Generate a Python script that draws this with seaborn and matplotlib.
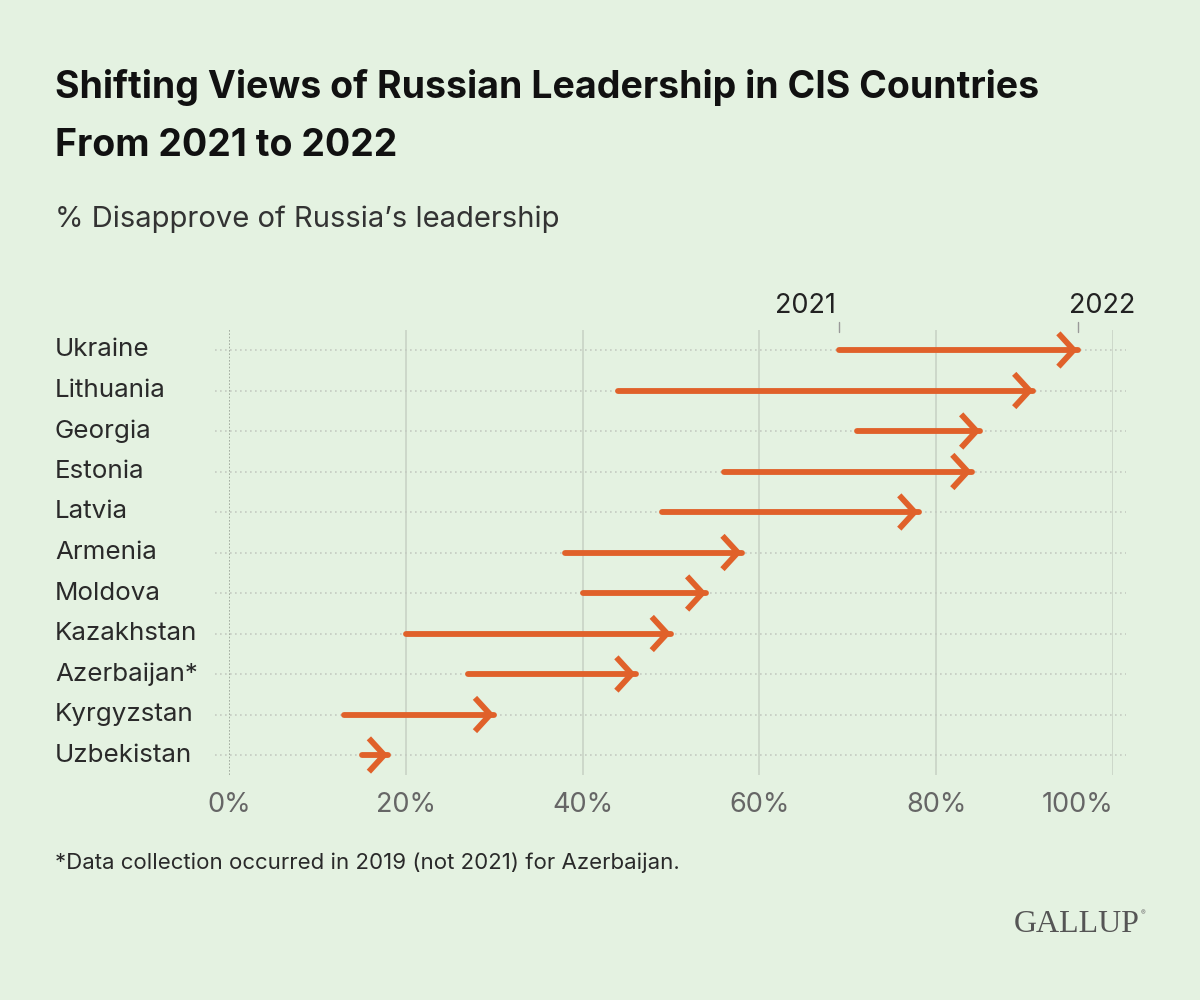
import numpy as np
import pandas as pd
import matplotlib.pyplot as plt
import seaborn as sns

# data (% disapprove of Russia's leadership)
countries = ['Ukraine', 'Lithuania', 'Georgia', 'Estonia', 'Latvia', 'Armenia',
             'Moldova', 'Kazakhstan', 'Azerbaijan*', 'Kyrgyzstan', 'Uzbekistan']
val_2021 = [69, 44, 71, 56, 49, 38, 40, 20, 27, 13, 15]
val_2022 = [96, 91, 85, 84, 78, 58, 54, 50, 46, 30, 18]
x_ticks = [0, 20, 40, 60, 80, 100]
x_tick_labels = ['0%', '20%', '40%', '60%', '80%', '100%']

bg = '#e4f2e1'
orange = '#e0612a'

sns.set_theme(style='white', rc={'figure.facecolor': bg, 'axes.facecolor': bg})
plt.rcParams['font.family'] = ['Inter', 'DejaVu Sans']

fig = plt.figure(figsize=(12, 10), dpi=100)
W, H = 1200, 1000
# axes so that 0% sits at x=229px, 100% at x=1113px, rows from y=350 to y=755
ax = fig.add_axes([229 / W, 1 - 775.25 / H, 884 / W, (775.25 - 329.75) / H])
ax.set_xlim(0, 100)
ax.set_ylim(len(countries) - 0.5, -0.5)
for s in ax.spines.values():
    s.set_visible(False)

rows = np.arange(len(countries))

# grid
for x in x_ticks[1:]:
    ax.axvline(x, color='#c9d3c6', lw=1.2, zorder=0)
ax.axvline(0, color='#9aa397', lw=1.2, ls=(0, (1, 1)), zorder=0)
ax.hlines(rows, -1.6, 101.5, color='#c4cbc1', lw=1.2, ls=(0, (1, 2)),
          zorder=0, clip_on=False)

# shafts
df = pd.DataFrame({
    'country': countries * 2,
    'row': list(rows) * 2,
    'value': val_2021 + val_2022,
})
sns.lineplot(data=df, x='value', y='row', units='country', estimator=None,
             color=orange, lw=4.2, solid_capstyle='round', sort=False,
             legend=False, ax=ax, zorder=3)

# arrow heads
for r, v in zip(rows, val_2022):
    ax.annotate('', xy=(v, r), xytext=(v - 1, r),
                arrowprops=dict(arrowstyle='->,head_length=0.55,head_width=0.6',
                                color=orange, lw=4.2, mutation_scale=20,
                                shrinkA=0, shrinkB=0, capstyle='butt',
                                joinstyle='miter'),
                zorder=4)

ax.set_xticks(x_ticks)
ax.set_xticklabels(x_tick_labels, fontsize=19.5, color='#666666')
ax.get_xticklabels()[-1].set_horizontalalignment('right')
ax.tick_params(axis='x', length=0, pad=12)
ax.set_yticks(rows)
ax.set_yticklabels([])
ax.tick_params(axis='y', length=0)
ax.set_xlabel('')
ax.set_ylabel('')

for r, c in zip(rows, countries):
    ax.annotate(c, xy=(0, r), xycoords=('figure fraction', 'data'),
                xytext=(55 / W, 0), textcoords=('figure fraction', 'offset points'),
                fontsize=18.7, color='#2a2a2a', va='center', ha='left')

# year labels on the Ukraine arrow
ax.annotate('2021', xy=(val_2021[0], -0.5), xytext=(-2, 17),
            textcoords='offset points', ha='right', va='center',
            fontsize=19.5, color='#222222', annotation_clip=False)
ax.annotate('2022', xy=(val_2022[0], -0.5), xytext=(-6, 17),
            textcoords='offset points', ha='left', va='center',
            fontsize=19.5, color='#222222', annotation_clip=False)
for v in (val_2021[0], val_2022[0]):
    ax.plot([v, v], [-0.7, -0.45], color='#999999', lw=1, clip_on=False)

fig.text(55 / W, 1 - 88 / H, 'Shifting Views of Russian Leadership in CIS Countries',
         fontsize=27, fontweight='bold', color='#111111', va='center')
fig.text(55 / W, 1 - 146 / H, 'From 2021 to 2022',
         fontsize=27, fontweight='bold', color='#111111', va='center')
fig.text(55 / W, 1 - 219 / H, '% Disapprove of Russia\u2019s leadership',
         fontsize=21, color='#333333', va='center')
fig.text(55 / W, 1 - 863 / H,
         '*Data collection occurred in 2019 (not 2021) for Azerbaijan.',
         fontsize=16, color='#2a2a2a', va='center')
fig.text(1140 / W, 1 - 925 / H, 'GALLUP', fontsize=23, color='#555555',
         va='center', ha='right', family=['Liberation Serif', 'DejaVu Serif'])
fig.text(1141 / W, 1 - 913 / H, '\u00ae', fontsize=5, color='#777777',
         va='center', ha='left')

fig.savefig('out.png', dpi=100, facecolor=bg)
